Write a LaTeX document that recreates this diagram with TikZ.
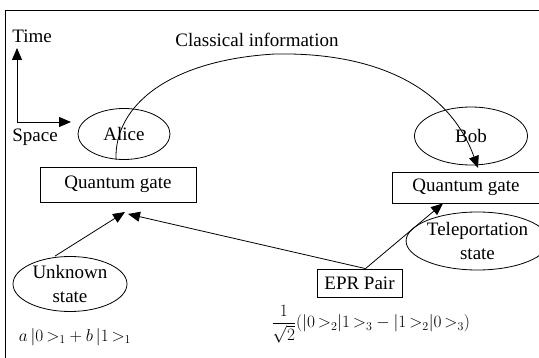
\documentclass[tikz,border=0pt]{standalone}
\usepackage{fontspec}
\setmainfont{Liberation Serif}
\usetikzlibrary{positioning,arrows.meta,shapes.geometric}

\begin{document}
\begin{tikzpicture}[
  x=1pt, y=-1pt,
  party/.style={ellipse, draw, inner sep=0pt, align=center},
  gate/.style={rectangle, draw, inner sep=0pt},
  >={Triangle[length=12pt,width=10pt]},
  line width=0.8pt,
  font=\fontsize{19}{24}\selectfont
]
\useasboundingbox (0,0) rectangle (539,358);

% Frame
\draw (5,358) -- (5,10) -- (539,10);

% Space-time axes
\coordinate (origin) at (17,122);
\coordinate (tAxis) at (17,48);
\coordinate (sAxis) at (71,122);
\draw[->] (origin) -- (tAxis);
\draw[->] (origin) -- (sAxis);
\node[anchor=west, inner sep=0pt] (time) at (12,36) {Time};
\node[anchor=west, inner sep=0pt] (space) at (12,137) {Space};

% Parties and gates
\node[party, minimum width=92pt, minimum height=51pt] (alice) at (124,134) {Alice};
\node[party, minimum width=113pt, minimum height=58pt] (bob) at (471,136) {Bob};
\node[gate, minimum width=156pt, minimum height=35pt] (gateL) at (118,184.5) {Quantum gate};
\node[gate, minimum width=148pt, minimum height=31pt] (gateR) at (466,187.5) {Quantum gate};
\node[party, minimum width=122pt, minimum height=58pt] (tele) at (477.5,241) {Teleportation\\state};
\node[party, minimum width=114pt, minimum height=55pt] (unknown) at (70,284) {Unknown\\state};
\node[gate, minimum width=85pt, minimum height=28pt] (epr) at (359.5,283) {EPR Pair};

% Labels
\node (classical) at (257,40) {Classical information};
\node (psiIn) at (75,337) {\fontsize{16.5}{20}\selectfont $a\,|0\,{>}_1+b\,|1\,{>}_1$};
\node[anchor=west, inner sep=0pt] (bell) at (271,324)
  {\fontsize{17}{20}\selectfont $\displaystyle\frac{1}{\sqrt{2}}(|0\,{>}_2|1\,{>}_3-|1\,{>}_2|0\,{>}_3)$};

% Classical channel
\coordinate (bobIn) at (478,168);
\draw[->] ([xshift=-8pt]alice.south) .. controls (114,105) and (170,60) .. (275,54)
  .. controls (380,52) and (450,90) .. (bobIn);

% Quantum inputs
\coordinate (inA) at (125,212);
\coordinate (inB) at (128,214);
\draw[->] ([xshift=-15pt]unknown.north) -- (inA);
\draw[->] ([xshift=6pt]epr.north) -- (inB);
\draw[->] ([xshift=6pt]epr.north) -- ([xshift=-23pt]gateR.south);
\end{tikzpicture}
\end{document}
